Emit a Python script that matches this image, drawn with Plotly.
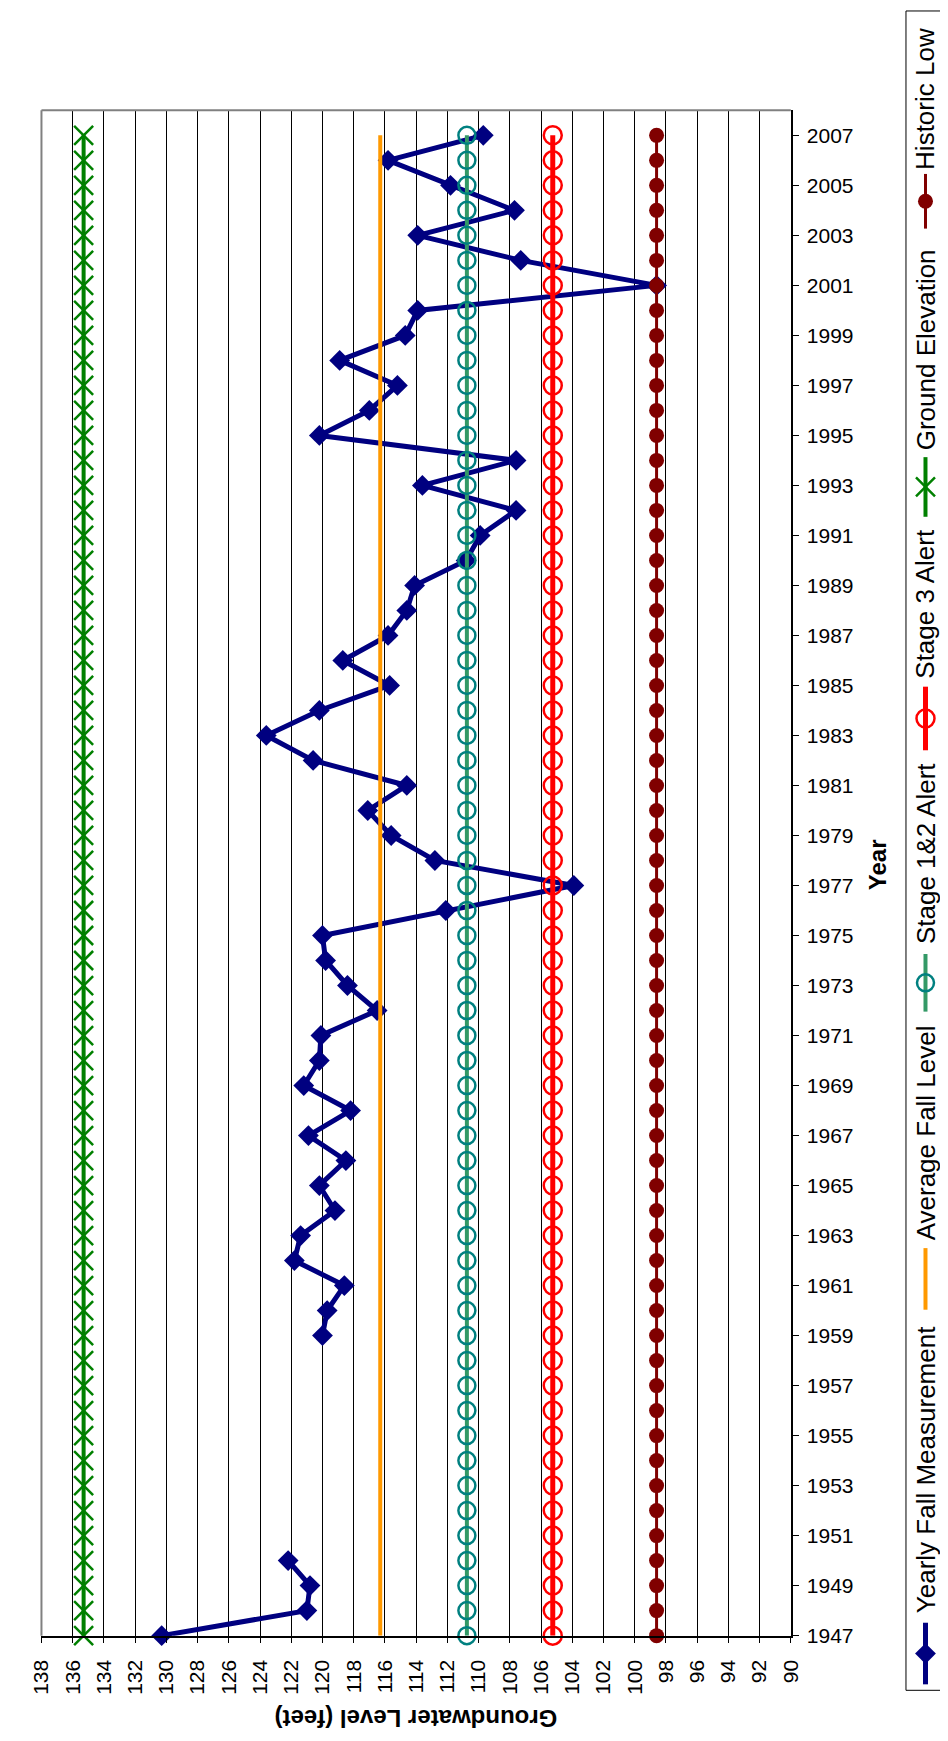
import plotly.graph_objects as go

years = list(range(1947, 2008))
yearly_fall = [130.3, 121.0, 120.8, 122.2,
               None, None, None, None, None, None, None, None,
               120.0, 119.7, 118.6, 121.8, 121.4, 119.2, 120.2, 118.5, 120.9, 118.2,
               121.2, 120.2, 120.1, 116.5, 118.4, 119.8, 120.0, 112.1, 103.9, 112.8,
               115.6, 117.1, 114.6, 120.6, 123.6, 120.2, 115.7, 118.7, 115.8, 114.6,
               114.1, 110.8, 109.9, 107.6, 113.6, 107.6, 120.2, 117.0, 115.2, 118.9,
               114.7, 113.9, 98.6, 107.3, 113.9, 107.7, 111.8, 115.8, 109.7]
average_fall_level = 116.3
stage12_alert = 110.75
stage3_alert = 105.25
ground_elevation = 135.3
historic_low = 98.6

n = len(years)
FONT = "Arial, Liberation Sans, sans-serif"

series = [
    dict(name="Yearly Fall Measurement", x=yearly_fall, mode="lines+markers",
         line=dict(color="#000080", width=5),
         marker=dict(symbol="diamond", size=16, color="#000080")),
    dict(name="Average Fall Level", x=[average_fall_level] * n, mode="lines",
         line=dict(color="#FF9900", width=4), marker=dict()),
    dict(name="Stage 1&2 Alert", x=[stage12_alert] * n, mode="lines+markers",
         line=dict(color="#339966", width=4),
         marker=dict(symbol="circle-open", size=17, color="#008080", line=dict(width=2.5))),
    dict(name="Stage 3 Alert", x=[stage3_alert] * n, mode="lines+markers",
         line=dict(color="#FF0000", width=5),
         marker=dict(symbol="circle-open", size=18, color="#FF0000", line=dict(width=2.5))),
    dict(name="Ground Elevation", x=[ground_elevation] * n, mode="lines+markers",
         line=dict(color="#008000", width=4),
         marker=dict(symbol="x-thin", size=19, color="#008000",
                     line=dict(color="#008000", width=2.5))),
    dict(name="Historic Low", x=[historic_low] * n, mode="lines+markers",
         line=dict(color="#800000", width=3),
         marker=dict(symbol="circle", size=15, color="#800000")),
]

fig = go.Figure()
for s in series:
    fig.add_trace(go.Scatter(x=s["x"], y=years, mode=s["mode"], name=s["name"],
                             line=s["line"], marker=s["marker"], connectgaps=False,
                             cliponaxis=False))

# hand made legend (rotated), positions in pixels on a helper axis
legend_pos = {  # name: (line top, line bottom, text centre)
    "Historic Low": (167, 222, 91),
    "Ground Elevation": (452, 512, 344),
    "Stage 3 Alert": (683, 747, 599),
    "Stage 1&2 Alert": (952, 1010, 851),
    "Average Fall Level": (1248, 1310, 1132),
    "Yearly Fall Measurement": (1625, 1687, 1471),
}
annotations = []
for s in series:
    top, bot, tc = legend_pos[s["name"]]
    fig.add_trace(go.Scatter(x=[928, 928], y=[top, bot], mode="lines", line=s["line"],
                             xaxis="x2", yaxis="y2", hoverinfo="skip"))
    if s["mode"] == "lines+markers":
        fig.add_trace(go.Scatter(x=[928], y=[(top + bot) / 2], mode="markers", marker=s["marker"],
                                 xaxis="x2", yaxis="y2", hoverinfo="skip"))
    annotations.append(dict(x=928, y=tc, xref="x2", yref="y2", text=s["name"], textangle=-90,
                            showarrow=False, font=dict(family=FONT, size=26, color="black")))

annotations.append(dict(x=879, y=862, xref="x2", yref="y2", text="<b>Year</b>", textangle=-90,
                        showarrow=False, font=dict(family=FONT, size=24, color="black")))
annotations.append(dict(x=406, y=1722, xref="x2", yref="y2", text="<b>Groundwater Level (feet)</b>",
                        textangle=180, showarrow=False, font=dict(family=FONT, size=24, color="black")))

fig.update_layout(
    width=948, height=1741, margin=dict(l=0, r=0, t=0, b=0),
    paper_bgcolor="white", plot_bgcolor="rgba(0,0,0,0)", showlegend=False,
    font=dict(family=FONT, color="black"),
    xaxis=dict(domain=[22 / 948, 790 / 948], range=[138, 90], tick0=90, dtick=2,
               tickangle=-90, ticks="outside", ticklen=6, tickcolor="black",
               showline=True, linecolor="black", linewidth=1.5, showgrid=True,
               gridcolor="black", gridwidth=1, zeroline=False, anchor="y",
               tickfont=dict(size=21), ticklabelstandoff=8),
    yaxis=dict(domain=[1 - 1638 / 1741, 1 - 103 / 1741], range=[1946.999, 2008], side="right",
               tickvals=years[::2], ticks="outside", ticklen=6, tickcolor="black",
               showline=True, linecolor="black", linewidth=1.5, showgrid=False,
               zeroline=False, anchor="x", tickfont=dict(size=21), ticklabelstandoff=4),
    xaxis2=dict(domain=[0, 1], range=[0, 948], visible=False, anchor="y2"),
    yaxis2=dict(domain=[0, 1], range=[1741, 0], visible=False, anchor="x2"),
    annotations=annotations,
    shapes=[
        dict(type="line", xref="x domain", yref="y domain", x0=0, x1=1, y0=1, y1=1,
             line=dict(color="#808080", width=2)),
        dict(type="line", xref="x domain", yref="y domain", x0=0, x1=0, y0=0, y1=1,
             line=dict(color="#808080", width=2)),
        dict(type="rect", xref="x2", yref="y2", x0=908, x1=960, y0=3, y1=1693,
             line=dict(color="black", width=1)),
    ],
)

fig.write_html("out.html")
